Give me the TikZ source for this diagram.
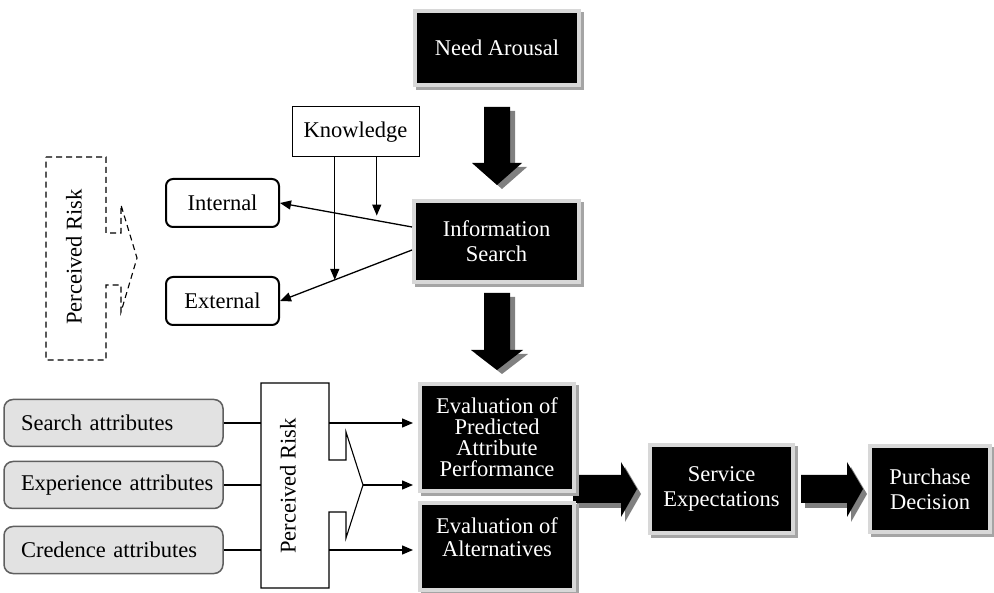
\documentclass[tikz,border=0pt]{standalone}
\usepackage{fontspec}
\setmainfont{Liberation Serif}
\usetikzlibrary{arrows.meta}
\definecolor{framegray}{RGB}{216,216,216}
\definecolor{shadegray}{RGB}{165,165,165}
\definecolor{arrowshade}{RGB}{128,128,128}
\definecolor{attrfill}{RGB}{226,226,226}
\definecolor{attrdraw}{RGB}{95,95,95}
\begin{document}
\begin{tikzpicture}[x=1pt,y=-1pt,
  every node/.style={font=\fontsize{22.5}{25}\selectfont},
  blackbox/.style={fill=black, text=white, draw=framegray, line width=4pt, inner sep=0pt, align=center,
     preaction={draw=shadegray, fill=shadegray, line width=4pt, transform canvas={shift={(3pt,-3pt)}}}},
  plainbox/.style={draw=black, line width=1pt, inner sep=0pt, minimum width=127pt, minimum height=50pt},
  roundbox/.style={draw=black, line width=2pt, rounded corners=7pt, inner sep=0pt, minimum width=113pt, minimum height=48pt},
  attrbox/.style={fill=attrfill, draw=attrdraw, line width=1.5pt, rounded corners=9pt, inner xsep=17pt, inner ysep=0pt,
     text width=185pt, align=left, minimum height=47pt},
  conn/.style={line width=1.3pt},
  arr/.style={-{Triangle[length=11pt,width=9pt]}},
  blockarrow/.style={fill=black},
  blockshade/.style={fill=arrowshade},
  riskline/.style={line width=1.1pt},
]
\useasboundingbox (0,0) rectangle (994,593);

% block arrows (shadow then arrow)
\fill[blockshade,shift={(5,4)}] (484,107) -- (510,107) -- (510,163) -- (522,163) -- (497,185) -- (472,163) -- (484,163) -- cycle;
\fill[blockarrow] (484,107) -- (510,107) -- (510,163) -- (522,163) -- (497,185) -- (472,163) -- (484,163) -- cycle;
\fill[blockshade,shift={(5,4)}] (484,293) -- (510,293) -- (510,350) -- (523,350) -- (497,370) -- (471,350) -- (484,350) -- cycle;
\fill[blockarrow] (484,293) -- (510,293) -- (510,350) -- (523,350) -- (497,370) -- (471,350) -- (484,350) -- cycle;
\fill[blockshade,shift={(4,5)}] (573,475) -- (621,475) -- (621,462) -- (637,489) -- (621,517) -- (621,503) -- (573,503) -- cycle;
\fill[blockarrow] (573,475) -- (621,475) -- (621,462) -- (637,489) -- (621,517) -- (621,503) -- (573,503) -- cycle;
\fill[blockshade,shift={(4,5)}] (801,475) -- (847,475) -- (847,462) -- (863,489) -- (847,517) -- (847,503) -- (801,503) -- cycle;
\fill[blockarrow] (801,475) -- (847,475) -- (847,462) -- (863,489) -- (847,517) -- (847,503) -- (801,503) -- cycle;

% black boxes
\node[blackbox, minimum width=164pt, minimum height=74pt] (need) at (497,48) {Need Arousal};
\node[blackbox, minimum width=165pt, minimum height=81pt] (info) at (496.5,241.5) {Information\\Search};
\node[blackbox, minimum width=154pt, minimum height=107pt, font=\fontsize{22.5}{21}\selectfont] (evalp) at (497,437.5) {Evaluation of\\Predicted\\Attribute\\Performance};
\node[blackbox, minimum width=154pt, minimum height=87pt] (evala) at (497,546.5) {};
\node[text=white, align=center, font=\fontsize{22.5}{23}\selectfont] (evalatext) at (497,537) {Evaluation of\\Alternatives};
\node[blackbox, minimum width=143pt, minimum height=88pt] (service) at (721.5,489) {Service\\Expectations};
\node[blackbox, minimum width=120pt, minimum height=86pt] (purchase) at (930,489) {Purchase\\Decision};

% knowledge, internal, external
\node[plainbox] (knowledge) at (355.5,132) {Knowledge};
\node[roundbox] (internal) at (222.5,203) {Internal};
\node[roundbox] (external) at (222.5,301) {External};

% attribute boxes
\node[attrbox] (search) at (113.5,423) {\mbox{Search attributes}};
\node[attrbox] (exp) at (113.5,485) {\mbox{Experience attributes}};
\node[attrbox] (cred) at (113.5,550) {\mbox{Credence attributes}};

% dashed perceived risk
\draw[riskline, dash pattern=on 6pt off 4pt] (46,157) -- (106,157) -- (106,233) -- (121,233) -- (121,205) -- (137,258) -- (121,312) -- (121,285) -- (106,285) -- (106,360) -- (46,360) -- cycle;
\node[rotate=90] (riskd) at (74,257) {Perceived Risk};

% solid perceived risk
\draw[riskline] (261,383) -- (329,383) -- (329,460) -- (346,460) -- (346,432) -- (363,485) -- (346,538) -- (346,512) -- (329,512) -- (329,588) -- (261,588) -- cycle;
\node[rotate=90] (riskb) at (288,486) {Perceived Risk};
\coordinate (rbW) at (261,485);
\coordinate (rbE) at (329,485);
\coordinate (rbTip) at (363,485);

% connectors: info search
\draw[conn,arr] ([yshift=14.5pt]info.west) -- coordinate[pos=0.267] (kint) (internal.east);
\draw[conn,arr] ([yshift=-8.5pt]info.west) -- coordinate[pos=0.585] (kext) (external.east);
\draw[conn,arr,shorten >=5pt] (knowledge.south -| kint) -- (kint);
\draw[conn,arr] (knowledge.south -| kext) -- (kext);

% connectors: attributes
\draw[conn] (search.east) -- (search.east -| rbW);
\draw[conn,arr,shorten >=5pt] (search.east -| rbE) -- (search.east -| evalp.west);
\draw[conn] (exp.east) -- (exp.east -| rbW);
\draw[conn,arr,shorten >=5pt] (rbTip) -- (rbTip -| evalp.west);
\draw[conn] (cred.east) -- (cred.east -| rbW);
\draw[conn,arr,shorten >=5pt] (cred.east -| rbE) -- (cred.east -| evala.west);
\end{tikzpicture}
\end{document}
